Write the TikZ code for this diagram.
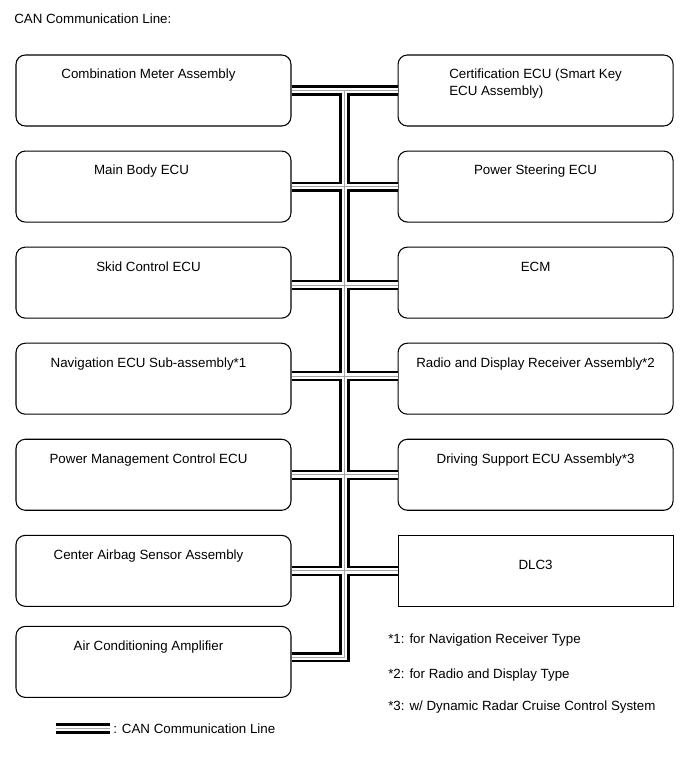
\documentclass[tikz,border=0pt]{standalone}
\usepackage{fontspec}
\setmainfont{Liberation Sans}
\usepackage{tikz}
\usetikzlibrary{positioning,calc}
\tikzset{
  ecu/.style={rectangle,rounded corners=7pt,draw=black,line width=0.8pt,inner sep=0pt,
    minimum width=206.25pt,minimum height=53.25pt,text height=17.9pt,text depth=35.35pt,
    font=\fontsize{10pt}{12.75pt}\selectfont},
  eculeft/.style={ecu,execute at end node={\kern7.5pt}},
  ecutwo/.style={ecu,align=left,text height=30.65pt,text depth=22.6pt},
  dlcbox/.style={ecu,sharp corners,text height=25.4pt,text depth=27.85pt},
  canouter/.style={line width=7.6pt,black},
  caninner/.style={line width=4.2pt,white},
  cancore/.style={line width=0.8pt,gray!70},
  note/.style={inner sep=0pt,anchor=base west,font=\fontsize{10pt}{12pt}\selectfont}
}
\begin{document}
\begin{tikzpicture}[x=0.75pt,y=-0.75pt,node distance=18pt and 79.5pt]
  \useasboundingbox (0,0) rectangle (690,757);
  \node[note] (title) at (14,23) {CAN Communication Line:};

  % left column
  \node[eculeft] (cmb) at (153.5,90.5) {Combination Meter Assembly};
  \node[eculeft,below=of cmb,execute at end node={\kern10.5pt}] (mbe) {Main Body ECU};
  \node[eculeft,below=of mbe] (skid) {Skid Control ECU};
  \node[eculeft,below=of skid] (nav) {Navigation ECU Sub-assembly*1};
  \node[eculeft,below=of nav] (pmc) {Power Management Control ECU};
  \node[eculeft,below=of pmc] (cab) {Center Airbag Sensor Assembly};
  \node[eculeft,below=14.25pt of cab] (air) {Air Conditioning Amplifier};

  % right column
  \node[ecutwo,right=of cmb] (cert) {Certification ECU (Smart Key\\ECU Assembly)};
  \node[ecu,right=of mbe] (pse) {Power Steering ECU};
  \node[ecu,right=of skid] (ecm) {ECM};
  \node[ecu,right=of nav] (radio) {Radio and Display Receiver Assembly*2};
  \node[ecu,right=of pmc] (dsa) {Driving Support ECU Assembly*3};
  \node[dlcbox,right=of cab] (dlc) {DLC3};

  % CAN bus, drawn in layers
  \coordinate (tj) at ($(cmb.east)!0.5!(cert.west)$);
  \coordinate (keya) at (56,728.5);
  \coordinate (keyb) at (110,728.5);
  \foreach \layer in {canouter,caninner,cancore}{
    \draw[\layer] (cmb.east) -- (cert.west);
    \draw[\layer] (mbe.east) -- (pse.west);
    \draw[\layer] ([yshift=-1.9pt]skid.east) -- ([yshift=-1.9pt]ecm.west);
    \draw[\layer] ([yshift=1.9pt]nav.east) -- ([yshift=1.9pt]radio.west);
    \draw[\layer] (pmc.east) -- (dsa.west);
    \draw[\layer] (cab.east) -- (dlc.west);
    \draw[\layer] ([yshift=3.4pt]air.east) -| (tj);
    \draw[\layer] (keya) -- (keyb);
  }

  % notes
  \node[note] (fn1) at (388,643) {*1: for Navigation Receiver Type};
  \node[note] (fn2) at (388,678) {*2: for Radio and Display Type};
  \node[note] (fn3) at (388,710) {*3: w/ Dynamic Radar Cruise Control System};
  \node[note,right=2.25pt of keyb] (key) {: CAN Communication Line};
\end{tikzpicture}
\end{document}
